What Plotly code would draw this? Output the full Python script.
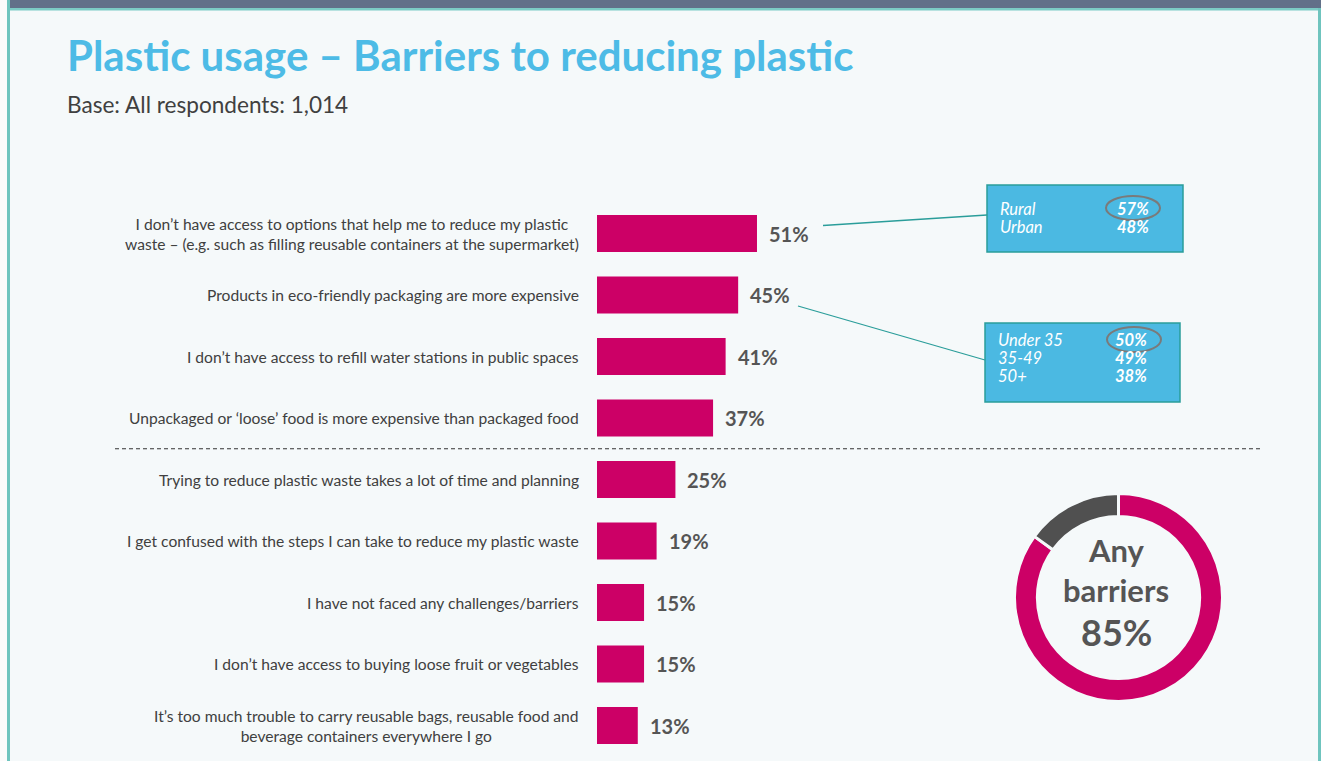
import plotly.graph_objects as go

W, H = 1321, 761

def px(x):
    return x / W

def py(y):
    return 1 - y / H

# Survey results: barriers to reducing plastic (base: all respondents, 1,014)
categories = [
    "I don\u2019t have access to options that help me to reduce my plastic<br>waste \u2013 (e.g. such as filling reusable containers at the supermarket)",
    "Products in eco-friendly packaging are more expensive",
    "I don\u2019t have access to refill water stations in public spaces",
    "Unpackaged or \u2018loose\u2019 food is more expensive than packaged food",
    "Trying to reduce plastic waste takes a lot of time and planning",
    "I get confused with the steps I can take to reduce my plastic waste",
    "I have not faced any challenges/barriers",
    "I don\u2019t have access to buying loose fruit or vegetables",
    "It\u2019s too much trouble to carry reusable bags, reusable food and<br>beverage containers everywhere I go",
]
values = [51, 45, 41, 37, 25, 19, 15, 15, 13]

# Breakdown callouts
area_labels = ["Rural", "Urban"]
area_values = [57, 48]
age_labels = ["Under 35", "35-49", "50+"]
age_values = [50, 49, 38]

# Donut
any_barrier = [85, 15]
any_barrier_labels = ["Any barriers", "No barriers"]

FONT = "Lato"
MAGENTA = "#cc0066"
TEAL = "#2a9d9a"
BOX = "#4bb9e2"
DARK = "#555555"

positions = list(range(len(categories)))

fig = go.Figure()

fig.add_trace(go.Bar(
    x=values,
    y=positions,
    orientation="h",
    marker=dict(color=MAGENTA, line=dict(width=0)),
    width=0.6,
    hoverinfo="skip",
    showlegend=False,
))

fig.add_trace(go.Pie(
    values=any_barrier,
    labels=any_barrier_labels,
    sort=False,
    direction="clockwise",
    rotation=0,
    hole=0.78,
    marker=dict(colors=[MAGENTA, "#505050"], line=dict(color="#f5f9fa", width=3)),
    textinfo="none",
    hoverinfo="skip",
    showlegend=False,
    domain=dict(x=[px(1014.5), px(1222.5)], y=[py(702), py(493)]),
))

annotations = []

# Category labels to the left of the bars
for i, label in enumerate(categories):
    annotations.append(dict(
        x=px(581), xref="paper", y=i, yref="y",
        text=label, showarrow=False, xanchor="right", yanchor="middle",
        align="center", font=dict(family=FONT, size=15.6, color="#404040"),
    ))

# Value labels at the end of each bar
for i, v in enumerate(values):
    annotations.append(dict(
        x=v, xref="x", y=i, yref="y",
        text=f"<b>{v}%</b>", showarrow=False, xanchor="left", yanchor="middle",
        xshift=10, font=dict(family=FONT, size=20, color=DARK),
    ))

# Title and base
annotations.append(dict(
    x=px(65), y=py(55), xref="paper", yref="paper",
    text="<b>Plastic usage \u2013 Barriers to reducing plastic</b>",
    showarrow=False, xanchor="left", yanchor="middle",
    font=dict(family=FONT, size=42, color="#4dbbe6"),
))
annotations.append(dict(
    x=px(65), y=py(104), xref="paper", yref="paper",
    text="Base: All respondents: 1,014",
    showarrow=False, xanchor="left", yanchor="middle",
    font=dict(family=FONT, size=22.6, color="#404040"),
))

# Callout box contents
def callout(labels, vals, x_label, x_val, y_first, step):
    for k, (lab, val) in enumerate(zip(labels, vals)):
        yy = y_first + k * step
        annotations.append(dict(
            x=px(x_label), y=py(yy), xref="paper", yref="paper",
            text=f"<i>{lab}</i>", showarrow=False, xanchor="left", yanchor="middle",
            font=dict(family=FONT, size=16.5, color="white"),
        ))
        annotations.append(dict(
            x=px(x_val), y=py(yy), xref="paper", yref="paper",
            text=f"<b><i>{val}%</i></b>", showarrow=False, xanchor="center", yanchor="middle",
            font=dict(family=FONT, size=16.5, color="white"),
        ))

callout(area_labels, area_values, 998, 1133, 209, 18)
callout(age_labels, age_values, 996, 1131, 340, 18)

# Donut centre text
for text, yy, size in [("Any", 550, 31), ("barriers", 590, 31), ("85%", 632, 36)]:
    annotations.append(dict(
        x=px(1116), y=py(yy), xref="paper", yref="paper",
        text=f"<b>{text}</b>", showarrow=False, xanchor="center", yanchor="middle",
        font=dict(family=FONT, size=size, color=DARK),
    ))

shapes = [
    # page frame
    dict(type="rect", xref="paper", yref="paper", x0=0, x1=px(7), y0=0, y1=1,
         fillcolor="#fbfbfb", line=dict(width=0), layer="below"),
    dict(type="rect", xref="paper", yref="paper", x0=px(7), x1=px(10), y0=0, y1=1,
         fillcolor="#6fc4be", line=dict(width=0), layer="below"),
    dict(type="rect", xref="paper", yref="paper", x0=px(1318), x1=1, y0=0, y1=1,
         fillcolor="#6fc4be", line=dict(width=0), layer="below"),
    dict(type="rect", xref="paper", yref="paper", x0=px(10), x1=1, y0=py(8), y1=1,
         fillcolor="#627089", line=dict(width=0), layer="below"),
    dict(type="rect", xref="paper", yref="paper", x0=px(10), x1=px(1318), y0=py(10.5), y1=py(8),
         fillcolor="#7ccbc5", line=dict(width=0), layer="below"),
    # divider between top four and the rest
    dict(type="line", xref="paper", yref="y", x0=px(115), x1=px(1263), y0=3.5, y1=3.5,
         line=dict(color="#333333", width=1, dash="4px,3px")),
    # callout boxes
    dict(type="rect", xref="paper", yref="paper", x0=px(987), x1=px(1183), y0=py(252), y1=py(185),
         fillcolor=BOX, line=dict(color=TEAL, width=1.5)),
    dict(type="rect", xref="paper", yref="paper", x0=px(985), x1=px(1180), y0=py(402), y1=py(323),
         fillcolor=BOX, line=dict(color=TEAL, width=1.5)),
    # connectors
    dict(type="line", xref="paper", yref="paper", x0=px(823), y0=py(225.5), x1=px(987), y1=py(215),
         line=dict(color=TEAL, width=1.3)),
    dict(type="line", xref="paper", yref="paper", x0=px(798), y0=py(306), x1=px(985), y1=py(360),
         line=dict(color=TEAL, width=1.3)),
    # highlight rings
    dict(type="circle", xref="paper", yref="paper", x0=px(1106), x1=px(1160), y0=py(220), y1=py(196),
         line=dict(color="#7a7a7a", width=2)),
    dict(type="circle", xref="paper", yref="paper", x0=px(1107), x1=px(1161), y0=py(352), y1=py(327),
         line=dict(color="#7a7a7a", width=2)),
]

x_scale = 3.137  # pixels per percentage point
x_max = (W - 597) / x_scale

fig.update_layout(
    width=W, height=H,
    margin=dict(l=0, r=0, t=0, b=0),
    paper_bgcolor="#f5f9fa",
    plot_bgcolor="rgba(0,0,0,0)",
    xaxis=dict(domain=[px(597), 1], range=[0, x_max], visible=False, fixedrange=True),
    yaxis=dict(domain=[py(756.25), py(202.75)], range=[8.5, -0.5], visible=False, fixedrange=True),
    annotations=annotations,
    shapes=shapes,
    bargap=0.4,
)

fig.write_html("out.html")
